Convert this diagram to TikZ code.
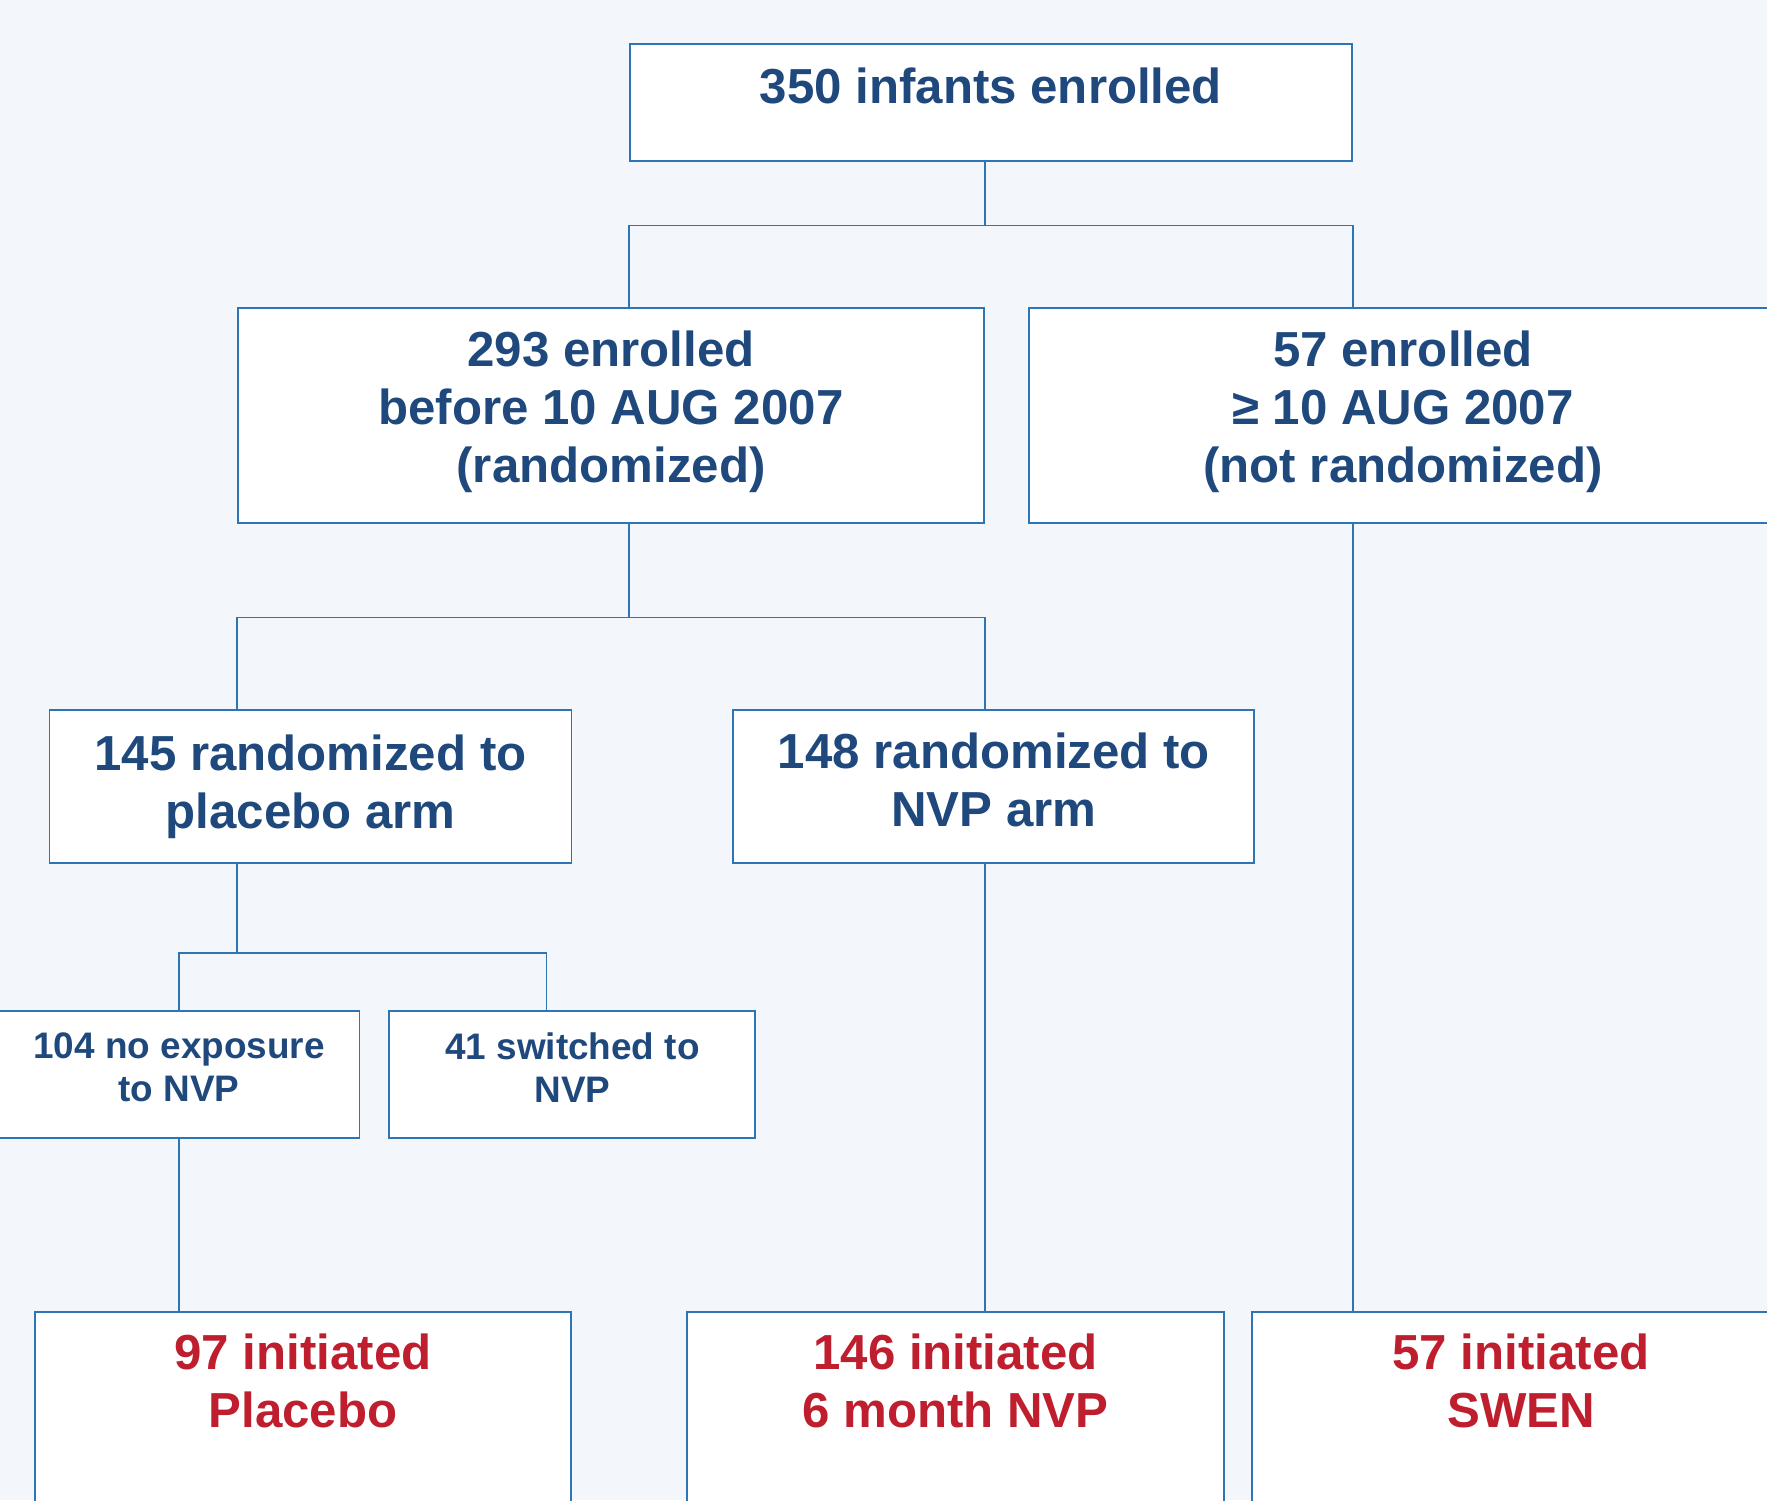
\documentclass[tikz,border=0pt]{standalone}
\usepackage{fontspec}
\setmainfont{Liberation Sans}
\usepackage{tikz}
\usetikzlibrary{positioning}
\definecolor{boxline}{HTML}{2E75B6}
\definecolor{textblue}{HTML}{1F497D}
\definecolor{textred}{HTML}{BE1E2D}
\definecolor{paper}{HTML}{F3F7FB}
\newcommand{\dpad}[1]{\rule[-#1]{0pt}{#1}}
\tikzstyle{stagebox} = [draw=boxline,line width=0.55pt,fill=white,text=textblue,font=\fontsize{14}{16.5}\selectfont\bfseries]
\tikzstyle{midbox} = [stagebox,align=center]
\tikzstyle{smallbox} = [midbox,font=\fontsize{10.5}{12.2}\selectfont\bfseries]
\tikzstyle{endbox} = [stagebox,text=textred,anchor=north,inner ysep=0.22cm]
\tikzstyle{link} = [draw=boxline,line width=0.5pt]

\begin{document}
\begin{tikzpicture}
	\useasboundingbox (0,0) rectangle (17.67,-15);
	\clip (0,0) rectangle (17.67,-15);
	\fill[paper] (0,0) rectangle (17.67,-15);
	
	%Nodes
	\node [stagebox,line width=0.75pt,minimum width=7.22cm,minimum height=1.17cm,text height=0.36cm,text depth=0.344cm] (enrolled) at (9.91,-1.025) {350 infants enrolled};
	\node [midbox,minimum width=7.46cm,minimum height=2.15cm] (before) at (6.11,-4.155) {293 enrolled\\before 10 AUG 2007\\(randomized)\dpad{0.18cm}};
	\node [midbox,minimum width=7.48cm,minimum height=2.15cm,right=0.43cm of before] (after) {57 enrolled\\≥ 10 AUG 2007\\(not randomized)\dpad{0.18cm}};
	\node [midbox,minimum width=5.22cm,minimum height=1.53cm] (placebo) at (3.105,-7.865) {145 randomized to\\placebo arm};
	\node [midbox,minimum width=5.21cm,minimum height=1.53cm,right=1.6cm of placebo] (nvp) {148 randomized to\\NVP arm\dpad{0.14cm}};
	\node [smallbox,minimum width=3.61cm,minimum height=1.27cm] (noexp) at (1.79,-10.745) {104 no exposure\\to NVP\dpad{0.14cm}};
	\node [smallbox,minimum width=3.66cm,minimum height=1.27cm,right=0.28cm of noexp] (switched) {41 switched to\\NVP\dpad{0.14cm}};
	\node [endbox,minimum width=5.36cm] (initplacebo) at (3.03,-13.11) {\parbox[t][2.2cm][t]{4.8cm}{\centering 97 initiated\\Placebo}};
	\node [endbox,minimum width=5.37cm] (initnvp) at (9.555,-13.11) {\parbox[t][2.2cm][t]{4.8cm}{\centering 146 initiated\\6 month NVP}};
	\node [endbox,minimum width=5.38cm] (initswen) at (15.21,-13.11) {\parbox[t][2.2cm][t]{4.8cm}{\centering 57 initiated\\SWEN}};
	
	%Split points
	\coordinate (split1) at (0,-2.254);
	\coordinate (split2) at (0,-6.175);
	\coordinate (split3) at (5.465,-9.53);
	
	%Lines
	\draw[link] (enrolled.south -| before.east) -- (split1 -| before.east);
	\draw[link] (before.north -| enrolled.west) |- (split1 -| enrolled.east) -- (after.north -| enrolled.east);
	\draw[link] (before.south -| enrolled.west) -- (split2 -| enrolled.west);
	\draw[link] (placebo.north -| before.west) |- (split2 -| before.east) -- (nvp.north -| before.east);
	\draw[link] (placebo.south -| before.west) -- (split3 -| before.west);
	\draw[link] (noexp.north) |- (split3) -- (switched.north -| split3);
	\draw[link] (noexp.south) -- (noexp.south |- initplacebo.north);
	\draw[link] (nvp.south -| before.east) -- (initnvp.north -| before.east);
	\draw[link] (after.south -| enrolled.east) -- (initswen.north -| enrolled.east);
\end{tikzpicture}
\end{document}
